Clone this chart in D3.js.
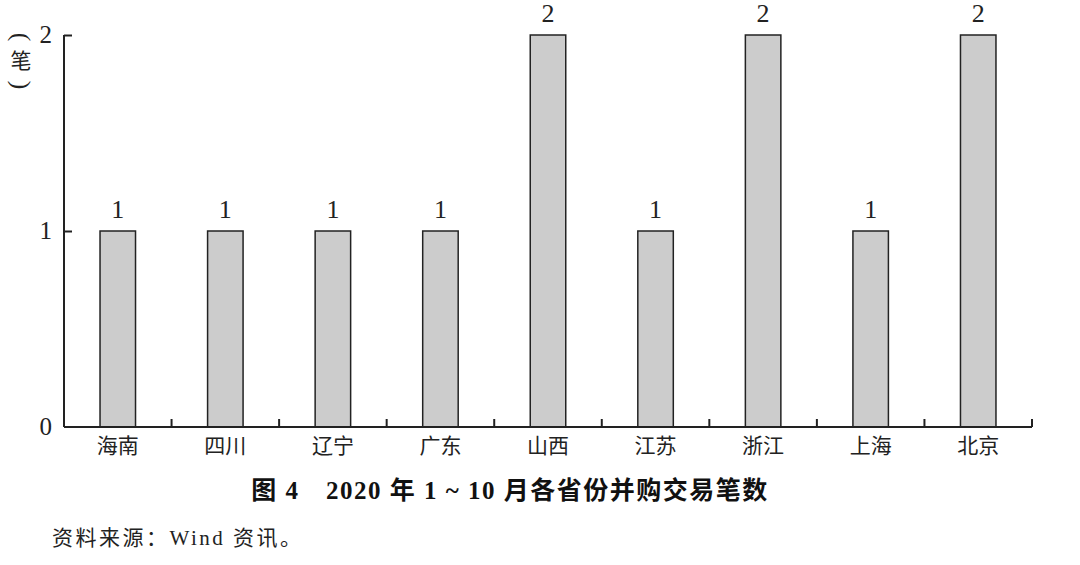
<!DOCTYPE html>
<html><head><meta charset="utf-8">
<script src="https://cdn.jsdelivr.net/npm/d3@7/dist/d3.min.js"></script>
<style>body{margin:0;background:#fff}</style>
</head><body><svg id="c" width="1080" height="565"></svg>
<script>
const categories = ["海南","四川","辽宁","广东","山西","江苏","浙江","上海","北京"];
const values = [1,1,1,1,2,1,2,1,2];
const yTicks = [0,1,2];
const title = "图 4　2020 年 1 ~ 10 月各省份并购交易笔数";
const source = "资料来源：Wind 资讯。";
const yUnit = "笔";

(function(){
const svg = d3.select("#c");
const font = "'Liberation Serif','Noto Sans CJK SC',serif";
const mL = 64, mR = 1032, mT = 35, mB = 427;

const x = d3.scaleBand().domain(categories).range([mL, mR]).paddingInner(0.67).paddingOuter(0.335);
const xb = d3.scaleBand().domain(categories).range([mL, mR]);
const y = d3.scaleLinear().domain([0,2]).range([mB, mT]);

const g = svg.append("g");
g.selectAll("rect.bar").data(categories).enter().append("rect")
  .attr("x", d => x(d)).attr("y", (d,i) => y(values[i]))
  .attr("width", x.bandwidth()).attr("height", (d,i) => y(0) - y(values[i]))
  .attr("fill", "#cccccc").attr("stroke", "#222").attr("stroke-width", 1.5);

g.selectAll("text.val").data(categories).enter().append("text")
  .attr("x", d => x(d) + x.bandwidth()/2).attr("y", (d,i) => y(values[i]) - 13)
  .attr("text-anchor", "middle").attr("font-family", font).attr("font-size", 26).attr("fill", "#222")
  .text((d,i) => values[i]);

const ya = d3.axisLeft(y).tickValues(yTicks).tickSize(-8).tickPadding(12).tickFormat(d3.format("d"));
const yg = svg.append("g").attr("transform", `translate(${mL},0)`).call(ya);
yg.select(".domain").attr("stroke", "#222").attr("stroke-width", 2).attr("d", `M0,${mT}V${mB}`);
yg.selectAll(".tick line").attr("stroke", "#222").attr("stroke-width", 2);
yg.selectAll(".tick text").attr("font-family", font).attr("font-size", 25).attr("fill", "#222").attr("dy", "0.3em");
yg.selectAll(".tick").filter(d => d === 0).select("line").remove();

const xa = d3.axisBottom(xb).tickSize(0).tickPadding(11);
const xg = svg.append("g").attr("transform", `translate(0,${mB})`).call(xa);
xg.select(".domain").attr("stroke", "#222").attr("stroke-width", 2).attr("d", `M${mL},0H${mR}`);
xg.selectAll(".tick text").attr("font-family", font).attr("font-size", 21).attr("fill", "#222");
const bounds = categories.slice(1).map(c => xb(c)).concat([mR]);
xg.selectAll("line.bt").data(bounds).enter().append("line")
  .attr("x1", d => d).attr("x2", d => d).attr("y1", 0).attr("y2", -8)
  .attr("stroke", "#222").attr("stroke-width", 2);

const ux = 21;
svg.append("text").attr("transform", `translate(${ux},37) rotate(90)`).attr("text-anchor","middle")
  .attr("dy","0.3em").attr("font-family", font).attr("font-size", 26).attr("fill","#222").text("(");
svg.append("text").attr("x", ux).attr("y", 61).attr("text-anchor","middle").attr("dominant-baseline","central")
  .attr("font-family", font).attr("font-size", 21).attr("fill","#222").text(yUnit);
svg.append("text").attr("transform", `translate(${ux},85) rotate(90)`).attr("text-anchor","middle")
  .attr("dy","0.3em").attr("font-family", font).attr("font-size", 26).attr("fill","#222").text(")");

svg.append("text").attr("x", 510).attr("y", 499).attr("text-anchor","middle")
  .attr("font-family", font).attr("font-weight","bold").attr("font-size", 25).attr("letter-spacing", 1.5)
  .attr("fill","#111").text(title);
svg.append("text").attr("x", 52).attr("y", 545)
  .attr("font-family", font).attr("font-size", 21).attr("letter-spacing", 2.5).attr("fill","#222").text(source);
})();
</script></body></html>
